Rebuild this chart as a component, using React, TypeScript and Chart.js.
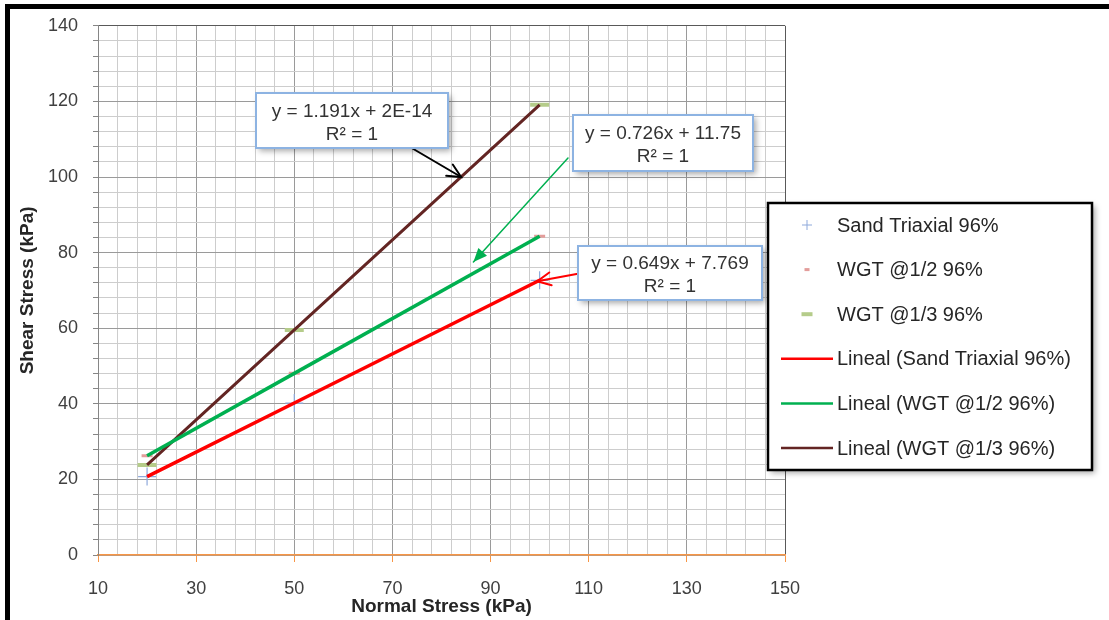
import React, { useEffect, useRef } from "react";
import { Chart, registerables } from "chart.js";

Chart.register(...registerables);

// ---- data ----
const normalStress = [20, 50, 100];
const sandTriaxial = [20.75, 40.2, 72.67];
const wgtHalf = [26.27, 48.05, 84.35];
const wgtThird = [23.82, 59.55, 119.1];
const seriesNames = ["Sand Triaxial 96%", "WGT @1/2 96%", "WGT @1/3 96%"];
const trendPrefix = "Lineal";
const xTickLabels = [10, 30, 50, 70, 90, 110, 130, 150];
const yTickLabels = [0, 20, 40, 60, 80, 100, 120, 140];
const minorStep = 4;
const eqThird = ["y = 1.191x + 2E-14", "R² = 1"];
const eqHalf = ["y = 0.726x + 11.75", "R² = 1"];
const eqSand = ["y = 0.649x + 7.769", "R² = 1"];
const xTitle = "Normal Stress (kPa)";
const yTitle = "Shear Stress (kPa)";

const FONT = "'Liberation Sans', Arial, sans-serif";

const pts = (ys: number[]) => normalStress.map((x, i) => ({ x, y: ys[i] }));

// annotation boxes (pixel boxes, arrow tips in data units)
const annotations = [
  { lines: eqThird, box: [256, 93, 192, 55], from: [410, 147], tip: { x: 84, y: 100 }, color: "#000000", head: "open", lw: 2 },
  { lines: eqHalf, box: [573, 115, 180, 56], from: [568, 158], tip: { x: 86.5, y: 77.5 }, color: "#00B050", head: "filled", lw: 1.5 },
  { lines: eqSand, box: [578, 246, 184, 54], from: [582, 273], tip: { x: 99.5, y: 72.4 }, color: "#FF0000", head: "open", lw: 2 },
];

const framePlugin = {
  id: "frame",
  afterDraw(chart: any) {
    const ctx = chart.ctx;
    ctx.save();
    ctx.fillStyle = "#000";
    ctx.fillRect(5, 4, 1104, 5);
    ctx.fillRect(5, 4, 5, 616);
    ctx.restore();
  },
};

const annotationPlugin = {
  id: "eqBoxes",
  afterDatasetsDraw(chart: any) {
    const ctx = chart.ctx;
    const xs = chart.scales.x;
    const ys = chart.scales.y;
    annotations.forEach((a) => {
      const tx = xs.getPixelForValue(a.tip.x);
      const ty = ys.getPixelForValue(a.tip.y);
      const [fx, fy] = a.from;
      ctx.save();
      ctx.strokeStyle = a.color;
      ctx.fillStyle = a.color;
      ctx.lineWidth = a.lw;
      ctx.lineCap = "round";
      ctx.beginPath();
      ctx.moveTo(fx, fy);
      ctx.lineTo(tx, ty);
      ctx.stroke();
      const ang = Math.atan2(ty - fy, tx - fx);
      const len = 15;
      const spread = a.head === "filled" ? 0.4 : 0.45;
      const p1 = [tx - len * Math.cos(ang - spread), ty - len * Math.sin(ang - spread)];
      const p2 = [tx - len * Math.cos(ang + spread), ty - len * Math.sin(ang + spread)];
      ctx.beginPath();
      if (a.head === "filled") {
        ctx.moveTo(tx, ty);
        ctx.lineTo(p1[0], p1[1]);
        ctx.lineTo(p2[0], p2[1]);
        ctx.closePath();
        ctx.fill();
      } else {
        ctx.moveTo(p1[0], p1[1]);
        ctx.lineTo(tx, ty);
        ctx.lineTo(p2[0], p2[1]);
        ctx.stroke();
      }
      ctx.restore();

      const [bx, by, bw, bh] = a.box;
      ctx.save();
      ctx.shadowColor = "rgba(0,0,0,0.35)";
      ctx.shadowBlur = 6;
      ctx.shadowOffsetX = 3;
      ctx.shadowOffsetY = 3;
      ctx.fillStyle = "#fff";
      ctx.fillRect(bx, by, bw, bh);
      ctx.restore();
      ctx.save();
      ctx.strokeStyle = "#8DB3E2";
      ctx.lineWidth = 2;
      ctx.strokeRect(bx, by, bw, bh);
      ctx.fillStyle = "#333";
      ctx.font = `19px ${FONT}`;
      ctx.textAlign = "center";
      ctx.textBaseline = "middle";
      const cx = bx + bw / 2;
      const cy = by + bh / 2;
      ctx.fillText(a.lines[0], cx, cy - 9);
      ctx.fillText(a.lines[1], cx, cy + 14);
      ctx.restore();
    });
  },
};

const legendPlugin = {
  id: "customLegend",
  afterDraw(chart: any) {
    const ctx = chart.ctx;
    const bx = 768, by = 203, bw = 324, bh = 267;
    ctx.save();
    ctx.shadowColor = "rgba(0,0,0,0.35)";
    ctx.shadowBlur = 6;
    ctx.shadowOffsetX = 3;
    ctx.shadowOffsetY = 3;
    ctx.fillStyle = "#fff";
    ctx.fillRect(bx, by, bw, bh);
    ctx.restore();
    ctx.save();
    ctx.strokeStyle = "#000";
    ctx.lineWidth = 2.5;
    ctx.strokeRect(bx, by, bw, bh);
    ctx.font = `20px ${FONT}`;
    ctx.textBaseline = "middle";
    ctx.textAlign = "left";
    chart.data.datasets.forEach((ds: any, i: number) => {
      const y = 225 + i * 44.6;
      const mx = 807;
      if (ds.showLine) {
        ctx.strokeStyle = ds.borderColor;
        ctx.lineWidth = 2.5;
        ctx.beginPath();
        ctx.moveTo(781, y);
        ctx.lineTo(833, y);
        ctx.stroke();
      } else if (ds.pointStyle === "cross") {
        ctx.strokeStyle = ds.pointBorderColor;
        ctx.lineWidth = 1;
        ctx.beginPath();
        ctx.moveTo(mx - 5, y);
        ctx.lineTo(mx + 5, y);
        ctx.moveTo(mx, y - 5);
        ctx.lineTo(mx, y + 5);
        ctx.stroke();
      } else {
        ctx.fillStyle = ds.pointBorderColor;
        const w = ds.legendW, h = ds.legendH;
        ctx.fillRect(mx - w / 2, y - h / 2, w, h);
      }
      ctx.fillStyle = "#262626";
      ctx.fillText(ds.label, 837, y + 1);
    });
    ctx.restore();
  },
};

function buildTicks(min: number, max: number) {
  const t: { value: number }[] = [];
  for (let v = min; v <= max + 1e-9; v += minorStep) t.push({ value: v });
  return t;
}

export default function App() {
  const ref = useRef<HTMLCanvasElement>(null);
  useEffect(() => {
    const canvas = ref.current!;
    Chart.defaults.font.family = FONT;
    const xMax = xTickLabels[xTickLabels.length - 1];
    const yMax = yTickLabels[yTickLabels.length - 1];
    const chart = new Chart(canvas, {
      type: "scatter",
      data: {
        datasets: [
          {
            label: seriesNames[0],
            data: pts(sandTriaxial),
            showLine: false,
            pointStyle: "cross",
            pointRadius: 9,
            pointBorderColor: "#8EA9DB",
            borderColor: "#8EA9DB",
            pointBorderWidth: 1.2,
            order: 1,
          },
          {
            label: seriesNames[1],
            data: pts(wgtHalf),
            showLine: false,
            pointStyle: "line",
            pointRadius: 5.5,
            pointBorderColor: "#E39D9B",
            borderColor: "#E39D9B",
            pointBorderWidth: 3,
            legendW: 5,
            legendH: 3,
            order: 1,
          },
          {
            label: seriesNames[2],
            data: pts(wgtThird),
            showLine: false,
            pointStyle: "line",
            pointRadius: 9.5,
            pointBorderColor: "#B5CC8A",
            borderColor: "#B5CC8A",
            pointBorderWidth: 4,
            legendW: 11,
            legendH: 4,
            order: 1,
          },
          {
            label: `${trendPrefix} (${seriesNames[0]})`,
            data: pts(sandTriaxial),
            showLine: true,
            borderColor: "#FF0000",
            borderWidth: 3.5,
            pointRadius: 0,
            order: 0,
          },
          {
            label: `${trendPrefix} (${seriesNames[1]})`,
            data: pts(wgtHalf),
            showLine: true,
            borderColor: "#00B050",
            borderWidth: 3.5,
            pointRadius: 0,
            order: 0,
          },
          {
            label: `${trendPrefix} (${seriesNames[2]})`,
            data: pts(wgtThird),
            showLine: true,
            borderColor: "#632523",
            borderWidth: 3,
            pointRadius: 0,
            order: 0,
          },
        ] as any,
      },
      options: {
        responsive: false,
        animation: false,
        events: [],
        layout: { padding: { left: 10, top: 23, right: 324, bottom: 0 } },
        plugins: {
          legend: { display: false },
          tooltip: { enabled: false },
        },
        scales: {
          x: {
            type: "linear",
            min: xTickLabels[0],
            max: xMax,
            afterBuildTicks: (s: any) => {
              s.ticks = buildTicks(xTickLabels[0], xMax);
            },
            afterFit: (s: any) => {
              s.height = 65;
            },
            ticks: {
              autoSkip: false,
              maxRotation: 0,
              padding: 16,
              color: "#404040",
              font: { size: 18 },
              callback: (v: any) => (xTickLabels.includes(v) ? String(v) : ""),
            },
            grid: {
              tickLength: 7,
              color: (c: any) =>
                c.tick && c.tick.value === xMax
                  ? "#595959"
                  : c.tick && xTickLabels.includes(c.tick.value)
                  ? "#9A9A9A"
                  : "#CDCDCD",
              tickColor: (c: any) =>
                c.tick && xTickLabels.includes(c.tick.value) ? "#F79646" : "rgba(0,0,0,0)",
              lineWidth: 1,
            },
            border: { color: "#F79646", width: 1.5 },
            title: {
              display: true,
              text: xTitle,
              color: "#262626",
              font: { size: 19, weight: "bold" },
              padding: { top: 0, bottom: 2 },
            },
          },
          y: {
            type: "linear",
            min: yTickLabels[0],
            max: yMax,
            afterBuildTicks: (s: any) => {
              s.ticks = buildTicks(yTickLabels[0], yMax);
            },
            afterFit: (s: any) => {
              s.width = 88;
            },
            ticks: {
              autoSkip: false,
              padding: 15,
              color: "#404040",
              font: { size: 18 },
              callback: (v: any) => (yTickLabels.includes(v) ? String(v) : ""),
            },
            grid: {
              tickLength: 5,
              color: (c: any) =>
                c.tick && c.tick.value === yMax
                  ? "#595959"
                  : c.tick && yTickLabels.includes(c.tick.value)
                  ? "#9A9A9A"
                  : "#CDCDCD",
              tickColor: "#868686",
              lineWidth: 1,
            },
            border: { color: "#868686", width: 1 },
            title: {
              display: true,
              text: yTitle,
              color: "#262626",
              font: { size: 19, weight: "bold" },
              padding: { top: 6, bottom: 0 },
            },
          },
        },
      } as any,
      plugins: [annotationPlugin, legendPlugin, framePlugin],
    });
    return () => chart.destroy();
  }, []);
  return (
    <div style={{ position: "absolute", left: 0, top: 0, width: 1109, height: 620, background: "#fff" }}>
      <canvas ref={ref} width={1109} height={620} style={{ display: "block", width: 1109, height: 620 }} />
    </div>
  );
}
